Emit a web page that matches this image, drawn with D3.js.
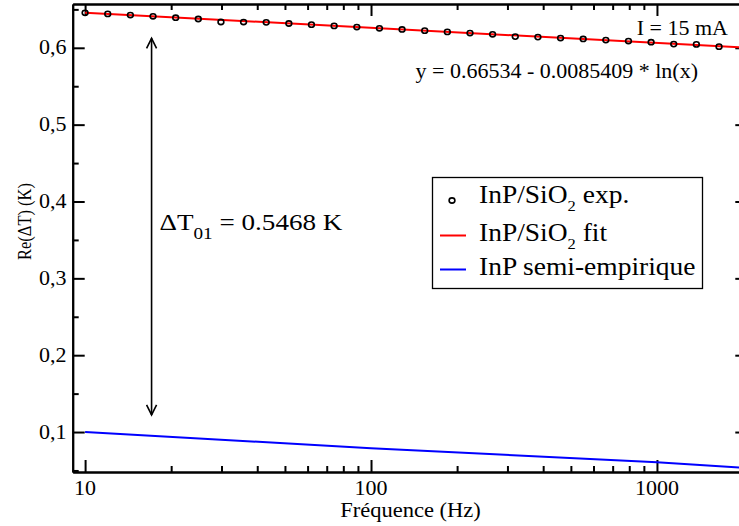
<!DOCTYPE html>
<html><head><meta charset="utf-8">
<script src="https://cdn.jsdelivr.net/npm/d3@7"></script>
<style>
html,body{margin:0;padding:0;background:#fff;}
text{font-family:"Liberation Serif","Times New Roman",serif;fill:#000;}
</style></head>
<body><svg id="c" width="739" height="526"></svg>
<script>
// ---- data ----
const freq = [10, 12, 14.4, 17.28, 20.74, 24.88, 29.86, 35.83, 43.0, 51.6, 61.9, 74.3, 89.2, 107.0, 128.4, 154.1, 184.9, 221.9, 266.2, 319.5, 383.4, 460.1, 552.1, 662.5, 795.0, 954.0, 1144.8, 1373.7, 1648.5];
const reExp = [0.6455, 0.6441, 0.6426, 0.6410, 0.6392, 0.6375, 0.6336, 0.6335, 0.6331, 0.6316, 0.6301, 0.6285, 0.6270, 0.6254, 0.6239, 0.6223, 0.6207, 0.6192, 0.6176, 0.6146, 0.6139, 0.6127, 0.6115, 0.6100, 0.6088, 0.6073, 0.6048, 0.6044, 0.6015];
const fitFreq = [10, 2070];
const fitRe = [0.6457, 0.6001];
const semiFreq = [10, 100, 1000, 2070];
const semiRe = [0.0999, 0.0790, 0.0607, 0.0532];
const xMajor = [10, 100, 1000];
const xMajorLabels = ["10", "100", "1000"];
const xMinor = [20,30,40,50,60,70,80,90,200,300,400,500,600,700,800,900,2000];
const yMajor = [0.1, 0.2, 0.3, 0.4, 0.5, 0.6];
const yMajorLabels = ["0,1", "0,2", "0,3", "0,4", "0,5", "0,6"];
const yMinor = [0.05, 0.15, 0.25, 0.35, 0.45, 0.55, 0.65];
const legendLabels = ["InP/SiO|2| exp.", "InP/SiO|2| fit", "InP semi-empirique"];
const arrowFreq = 17.08, arrowTop = 0.6124, arrowBottom = 0.1222;

// ---- layout ----
const FONT = "'Liberation Serif','Times New Roman',serif";
const L = 72.7, R = 747.3, T = 4, B = 472;
const svg = d3.select("#c");
const x = d3.scaleLog().domain([9.05, 2070]).range([L, R]);
const y = d3.scaleLinear().domain([0.048, 0.657]).range([B, T]);
const SX = 1.1;

function txt(g, px, py, parts, size, anchor, stretch) {
  return g.append("text")
    .attr("transform", `translate(${px},${py}) scale(${stretch||SX},1)`)
    .attr("text-anchor", anchor || "start")
    .attr("font-family", FONT)
    .style("font-size", size + "px");
}
function addRich(t, str, size, subSize, subDy) {
  const parts = str.split("|");
  parts.forEach((p, i) => {
    if (!p) return;
    const sp = t.append("tspan").text(p);
    if (i % 2 === 1) { sp.attr("dy", subDy).style("font-size", subSize + "px"); }
    else if (i > 0) { sp.attr("dy", -subDy); }
  });
}

svg.append("defs").append("clipPath").attr("id", "pc")
  .append("rect").attr("x", L).attr("y", T).attr("width", R - L).attr("height", B - T);

// ---- axes (ticks inward on all sides) ----
function axisG(gen, tx, ty) {
  const g = svg.append("g").attr("transform", `translate(${tx},${ty})`).call(gen);
  g.selectAll("text").remove();
  g.selectAll("path,line").attr("stroke", "#000").attr("stroke-width", 2);
  return g;
}
axisG(d3.axisBottom(x).tickValues(xMajor).tickSize(-12).tickSizeOuter(0).tickFormat(""), 0, B);
axisG(d3.axisBottom(x).tickValues(xMinor).tickSize(-6).tickSizeOuter(0).tickFormat(""), 0, B);
axisG(d3.axisTop(x).tickValues(xMajor).tickSize(-12).tickSizeOuter(0).tickFormat(""), 0, T);
axisG(d3.axisTop(x).tickValues(xMinor).tickSize(-6).tickSizeOuter(0).tickFormat(""), 0, T);
axisG(d3.axisLeft(y).tickValues(yMajor).tickSize(-12).tickSizeOuter(0).tickFormat(""), L, 0);
axisG(d3.axisLeft(y).tickValues(yMinor).tickSize(-6).tickSizeOuter(0).tickFormat(""), L, 0);
axisG(d3.axisRight(y).tickValues(yMajor).tickSize(-12).tickSizeOuter(0).tickFormat(""), R, 0);
axisG(d3.axisRight(y).tickValues(yMinor).tickSize(-6).tickSizeOuter(0).tickFormat(""), R, 0);

// tick labels
xMajor.forEach((v, i) => txt(svg, x(v), 495, null, 20, "middle").text(xMajorLabels[i]));
yMajor.forEach((v, i) => txt(svg, 66.5, y(v) + 6.5, null, 20, "end").text(yMajorLabels[i]));

// axis titles
txt(svg, 410.5, 516.5, null, 20.5, "middle").text("Fréquence (Hz)");
svg.append("text")
  .attr("transform", `translate(31,221.5) rotate(-90) scale(1,1.15)`)
  .attr("text-anchor", "middle").attr("font-family", FONT)
  .style("font-size", "16.5px").text("Re(ΔT) (K)");

// ---- series ----
const plot = svg.append("g").attr("clip-path", "url(#pc)");
const line = d3.line().x(d => x(d[0])).y(d => y(d[1]));
plot.append("path").datum(semiFreq.map((f, i) => [f, semiRe[i]]))
  .attr("d", line).attr("fill", "none").attr("stroke", "#0000ff").attr("stroke-width", 2);
plot.append("path").datum(fitFreq.map((f, i) => [f, fitRe[i]]))
  .attr("d", line).attr("fill", "none").attr("stroke", "#ff0000").attr("stroke-width", 2);
plot.selectAll("ellipse.pt").data(freq.map((f, i) => [f, reExp[i]])).enter()
  .append("ellipse").attr("class", "pt")
  .attr("cx", d => x(d[0])).attr("cy", d => y(d[1]))
  .attr("rx", 2.9).attr("ry", 2.6)
  .attr("fill", "none").attr("stroke", "#000").attr("stroke-width", 1.6);

// ---- double arrow ----
const ax = x(arrowFreq), ay1 = y(arrowTop), ay2 = y(arrowBottom);
svg.append("line").attr("x1", ax).attr("x2", ax).attr("y1", ay1).attr("y2", ay2)
  .attr("stroke", "#000").attr("stroke-width", 1.6);
svg.append("path").attr("d", `M${ax-5},${ay1+10}L${ax},${ay1}L${ax+5},${ay1+10}M${ax-5},${ay2-10}L${ax},${ay2}L${ax+5},${ay2-10}`)
  .attr("fill", "none").attr("stroke", "#000").attr("stroke-width", 1.6);

// annotations
const dt = txt(svg, 159.5, 230, null, 24, "start", 1.13);
addRich(dt, "ΔT|01| = 0.5468 K", 24, 17, 9);
txt(svg, 728, 35, null, 20, "end").text("I = 15 mA");
txt(svg, 698, 78, null, 20, "end").text("y = 0.66534 - 0.0085409 * ln(x)");

// ---- legend ----
const lg = svg.append("g");
lg.append("rect").attr("x", 432.5).attr("y", 177.5).attr("width", 270).attr("height", 111)
  .attr("fill", "#fff").attr("stroke", "#000").attr("stroke-width", 1.3);
const rows = [203, 240.5, 274.5];
lg.append("ellipse").attr("cx", 452).attr("cy", rows[0] - 2.5).attr("rx", 2.9).attr("ry", 2.6)
  .attr("fill", "none").attr("stroke", "#000").attr("stroke-width", 1.6);
lg.append("line").attr("x1", 440).attr("x2", 466).attr("y1", rows[1] - 5).attr("y2", rows[1] - 5)
  .attr("stroke", "#ff0000").attr("stroke-width", 2);
lg.append("line").attr("x1", 440).attr("x2", 466).attr("y1", rows[2] - 5).attr("y2", rows[2] - 5)
  .attr("stroke", "#0000ff").attr("stroke-width", 2);
legendLabels.forEach((s, i) => {
  const t = txt(lg, 479, rows[i], null, 25, "start");
  addRich(t, s, 25, 15, 8);
});
</script></body></html>
